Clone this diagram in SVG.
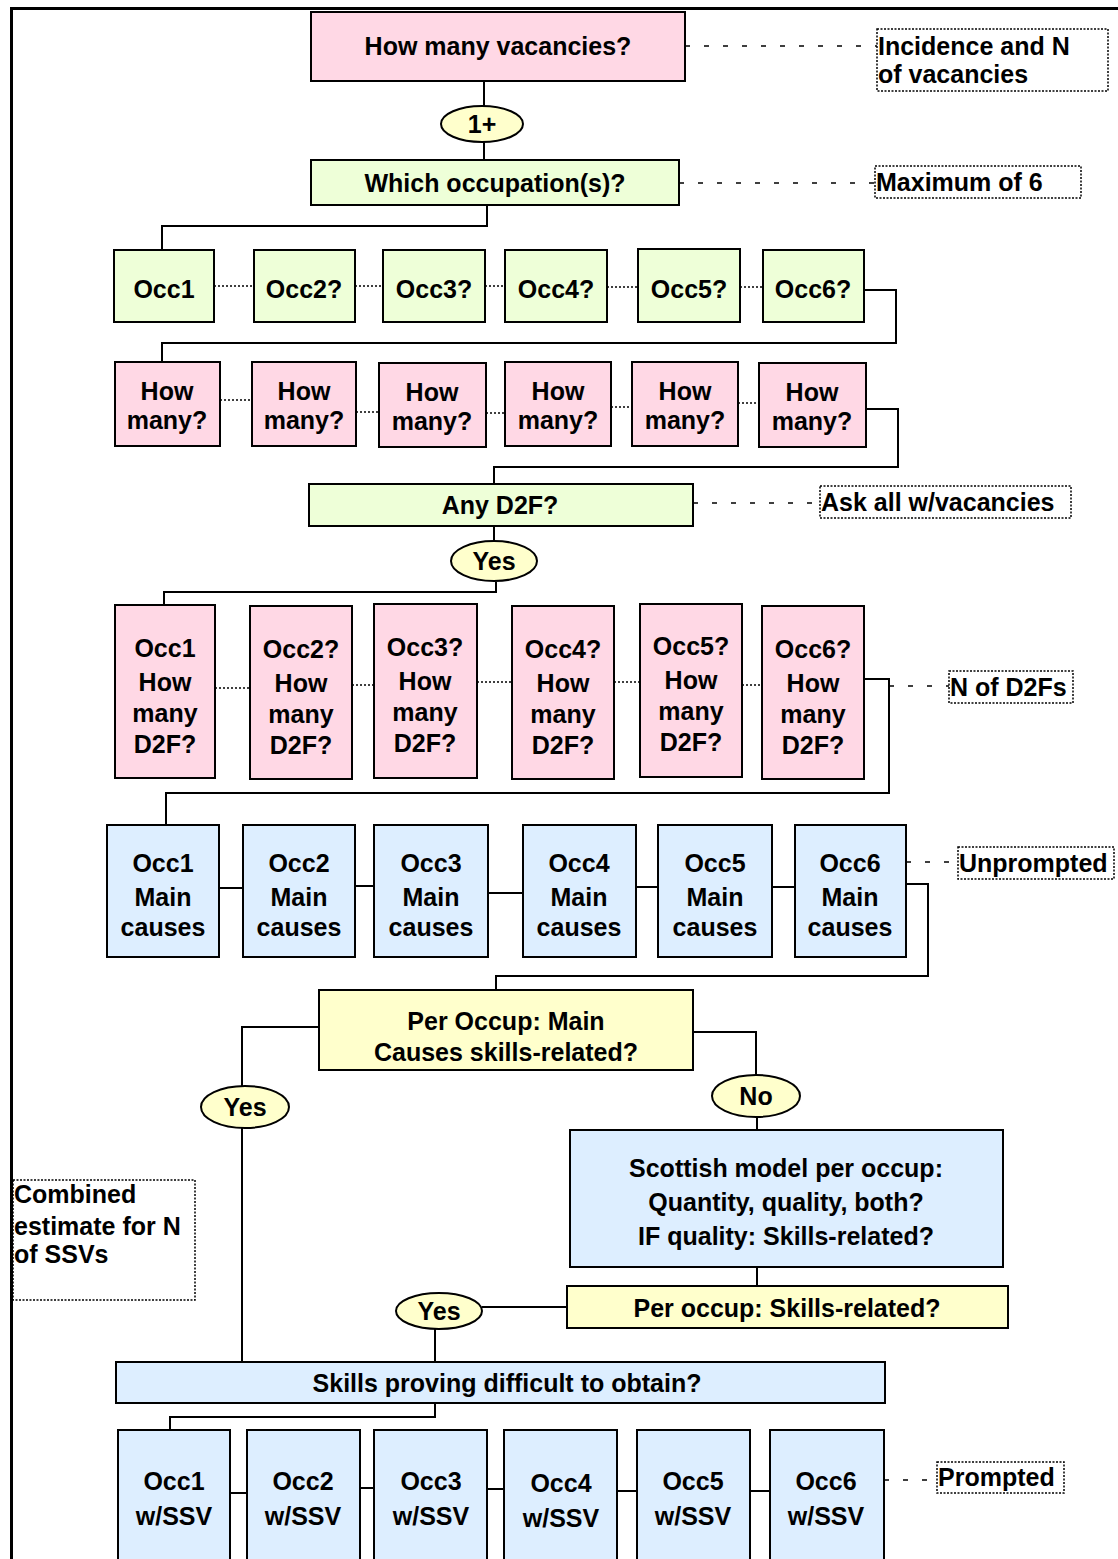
<svg xmlns="http://www.w3.org/2000/svg" width="1118" height="1559" viewBox="0 0 1118 1559">
<style>
.bx{stroke:#000;stroke-width:2}
.pink{fill:#FFD8E5}.green{fill:#EEFFD8}.yellow{fill:#FFFFCC}.blue{fill:#DDEEFF}
.t{font-family:"Liberation Sans",Arial,sans-serif;font-weight:bold;font-size:25px;fill:#000;text-anchor:middle}
.l{text-anchor:start}
.note{fill:none;stroke:#000;stroke-width:1.5;stroke-dasharray:2 1.5}
.c{fill:none;stroke:#000;stroke-width:2}
.dot{fill:none;stroke:#000;stroke-width:1.5;stroke-dasharray:2 2}
.dash{fill:none;stroke:#000;stroke-width:1.5;stroke-dasharray:5 14}
</style>
<rect x="0" y="0" width="1118" height="1559" fill="#fff"/>
<path d="M11.5 1559 V8.5 H1118" fill="none" stroke="#000" stroke-width="3"/>

<g id="connectors">
<path class="c" d="M484 81 V106 M484 142 V160"/>
<path class="c" d="M487 205 V226 H162 V250"/>
<path class="dot" d="M214 286 H254 M355 286 H383 M485 286 H505 M607 287 H638 M740 287 H763"/>
<path class="c" d="M864 290 H896 V343 H162 V362"/>
<path class="dot" d="M220 400 H252 M356 412 H379 M486 413 H505 M611 407 H632 M738 403 H759"/>
<path class="c" d="M866 409 H898 V467 H494 V484"/>
<path class="c" d="M494 526 V540 M496 582 V592 H164 V605"/>
<path class="dot" d="M215 688 H250 M352 685 H374 M477 682 H512 M614 682 H640 M742 685 H762"/>
<path class="c" d="M864 679 H889 V793 H166 V825"/>
<path class="c" d="M219 888 H243 M355 886 H374 M488 893 H523 M636 887 H658 M772 887 H795"/>
<path class="c" d="M906 884 H928 V976 H496 V990"/>
<path class="c" d="M319 1027 H242 V1086 M242 1128 V1362"/>
<path class="c" d="M693 1032 H756 V1075 M757 1117 V1130 M757 1267 V1286"/>
<path class="c" d="M482 1307 H567 M435 1329 V1362"/>
<path class="c" d="M435 1403 V1417 H170 V1430"/>
<path class="c" d="M230 1493 H247 M360 1488 H374 M487 1489 H504 M617 1491 H637 M750 1491 H770"/>
<path class="dash" d="M685 46 H877 M679 183 H875 M693 503 H820 M889 686 H949 M906 862 H958 M884 1480 H937"/>
</g>

<g id="n-vacancies"><rect class="bx pink" x="311" y="12" width="374" height="69"/><text class="t" x="498" y="55">How many vacancies?</text></g>
<g id="note-incidence"><rect class="note" x="877" y="29" width="231" height="62"/><text class="t l" x="878" y="55">Incidence and N</text><text class="t l" x="878" y="83">of vacancies</text></g>
<g id="e-1plus"><ellipse class="bx yellow" cx="482" cy="124" rx="41" ry="18"/><text class="t" x="482" y="133">1+</text></g>
<g id="n-which"><rect class="bx green" x="311" y="160" width="368" height="45"/><text class="t" x="495" y="192">Which occupation(s)?</text></g>
<g id="note-max"><rect class="note" x="875" y="166" width="206" height="32"/><text class="t l" x="876" y="191">Maximum of 6</text></g>

<g id="occ-row">
<g id="occ1"><rect class="bx green" x="114" y="250" width="100" height="72"/><text class="t" x="164" y="298">Occ1</text></g>
<g id="occ2"><rect class="bx green" x="254" y="250" width="101" height="72"/><text class="t" x="304" y="298">Occ2?</text></g>
<g id="occ3"><rect class="bx green" x="383" y="250" width="102" height="72"/><text class="t" x="434" y="298">Occ3?</text></g>
<g id="occ4"><rect class="bx green" x="505" y="250" width="102" height="72"/><text class="t" x="556" y="298">Occ4?</text></g>
<g id="occ5"><rect class="bx green" x="638" y="249" width="102" height="73"/><text class="t" x="689" y="298">Occ5?</text></g>
<g id="occ6"><rect class="bx green" x="763" y="250" width="101" height="72"/><text class="t" x="813" y="298">Occ6?</text></g>
</g>

<g id="howmany-row">
<g id="hm1"><rect class="bx pink" x="115" y="362" width="105" height="84"/><text class="t" x="167" y="400">How</text><text class="t" x="167" y="429">many?</text></g>
<g id="hm2"><rect class="bx pink" x="252" y="362" width="104" height="84"/><text class="t" x="304" y="400">How</text><text class="t" x="304" y="429">many?</text></g>
<g id="hm3"><rect class="bx pink" x="379" y="363" width="107" height="84"/><text class="t" x="432" y="401">How</text><text class="t" x="432" y="430">many?</text></g>
<g id="hm4"><rect class="bx pink" x="505" y="362" width="106" height="84"/><text class="t" x="558" y="400">How</text><text class="t" x="558" y="429">many?</text></g>
<g id="hm5"><rect class="bx pink" x="632" y="362" width="106" height="84"/><text class="t" x="685" y="400">How</text><text class="t" x="685" y="429">many?</text></g>
<g id="hm6"><rect class="bx pink" x="759" y="363" width="107" height="84"/><text class="t" x="812" y="401">How</text><text class="t" x="812" y="430">many?</text></g>
</g>

<g id="n-anyd2f"><rect class="bx green" x="309" y="484" width="384" height="42"/><text class="t" x="500" y="514">Any D2F?</text></g>
<g id="note-askall"><rect class="note" x="820" y="486" width="251" height="32"/><text class="t l" x="821" y="511">Ask all w/vacancies</text></g>
<g id="e-yes1"><ellipse class="bx yellow" cx="494" cy="561" rx="43" ry="20"/><text class="t" x="494" y="570">Yes</text></g>

<g id="d2f-row">
<g id="d2f1"><rect class="bx pink" x="115" y="605" width="100" height="173"/><text class="t" x="165" y="657">Occ1</text><text class="t" x="165" y="691">How</text><text class="t" x="165" y="722">many</text><text class="t" x="165" y="753">D2F?</text></g>
<g id="d2f2"><rect class="bx pink" x="250" y="606" width="102" height="173"/><text class="t" x="301" y="658">Occ2?</text><text class="t" x="301" y="692">How</text><text class="t" x="301" y="723">many</text><text class="t" x="301" y="754">D2F?</text></g>
<g id="d2f3"><rect class="bx pink" x="374" y="604" width="103" height="174"/><text class="t" x="425" y="656">Occ3?</text><text class="t" x="425" y="690">How</text><text class="t" x="425" y="721">many</text><text class="t" x="425" y="752">D2F?</text></g>
<g id="d2f4"><rect class="bx pink" x="512" y="606" width="102" height="173"/><text class="t" x="563" y="658">Occ4?</text><text class="t" x="563" y="692">How</text><text class="t" x="563" y="723">many</text><text class="t" x="563" y="754">D2F?</text></g>
<g id="d2f5"><rect class="bx pink" x="640" y="604" width="102" height="173"/><text class="t" x="691" y="655">Occ5?</text><text class="t" x="691" y="689">How</text><text class="t" x="691" y="720">many</text><text class="t" x="691" y="751">D2F?</text></g>
<g id="d2f6"><rect class="bx pink" x="762" y="606" width="102" height="173"/><text class="t" x="813" y="658">Occ6?</text><text class="t" x="813" y="692">How</text><text class="t" x="813" y="723">many</text><text class="t" x="813" y="754">D2F?</text></g>
</g>
<g id="note-nd2f"><rect class="note" x="949" y="671" width="124" height="32"/><text class="t l" x="950" y="696">N of D2Fs</text></g>

<g id="causes-row">
<g id="mc1"><rect class="bx blue" x="107" y="825" width="112" height="132"/><text class="t" x="163" y="872">Occ1</text><text class="t" x="163" y="906">Main</text><text class="t" x="163" y="936">causes</text></g>
<g id="mc2"><rect class="bx blue" x="243" y="825" width="112" height="132"/><text class="t" x="299" y="872">Occ2</text><text class="t" x="299" y="906">Main</text><text class="t" x="299" y="936">causes</text></g>
<g id="mc3"><rect class="bx blue" x="374" y="825" width="114" height="132"/><text class="t" x="431" y="872">Occ3</text><text class="t" x="431" y="906">Main</text><text class="t" x="431" y="936">causes</text></g>
<g id="mc4"><rect class="bx blue" x="523" y="825" width="113" height="132"/><text class="t" x="579" y="872">Occ4</text><text class="t" x="579" y="906">Main</text><text class="t" x="579" y="936">causes</text></g>
<g id="mc5"><rect class="bx blue" x="658" y="825" width="114" height="132"/><text class="t" x="715" y="872">Occ5</text><text class="t" x="715" y="906">Main</text><text class="t" x="715" y="936">causes</text></g>
<g id="mc6"><rect class="bx blue" x="795" y="825" width="111" height="132"/><text class="t" x="850" y="872">Occ6</text><text class="t" x="850" y="906">Main</text><text class="t" x="850" y="936">causes</text></g>
</g>
<g id="note-unprompted"><rect class="note" x="958" y="847" width="156" height="32"/><text class="t l" x="959" y="872">Unprompted</text></g>

<g id="n-perocc"><rect class="bx yellow" x="319" y="990" width="374" height="80"/><text class="t" x="506" y="1030">Per Occup: Main</text><text class="t" x="506" y="1061">Causes skills-related?</text></g>
<g id="e-yes2"><ellipse class="bx yellow" cx="245" cy="1107" rx="44" ry="21"/><text class="t" x="245" y="1116">Yes</text></g>
<g id="e-no"><ellipse class="bx yellow" cx="756" cy="1096" rx="44" ry="21"/><text class="t" x="756" y="1105">No</text></g>
<g id="n-scottish"><rect class="bx blue" x="570" y="1130" width="433" height="137"/><text class="t" x="786" y="1177">Scottish model per occup:</text><text class="t" x="786" y="1211">Quantity, quality, both?</text><text class="t" x="786" y="1245">IF quality: Skills-related?</text></g>
<g id="note-combined"><rect class="note" x="13" y="1180" width="182" height="120"/><text class="t l" x="14" y="1203">Combined</text><text class="t l" x="14" y="1235">estimate for N</text><text class="t l" x="14" y="1263">of SSVs</text></g>
<g id="e-yes3"><ellipse class="bx yellow" cx="439" cy="1311" rx="43" ry="18"/><text class="t" x="439" y="1320">Yes</text></g>
<g id="n-skillsrel"><rect class="bx yellow" x="567" y="1286" width="441" height="42"/><text class="t" x="787" y="1317">Per occup: Skills-related?</text></g>
<g id="n-difficult"><rect class="bx blue" x="116" y="1362" width="769" height="41"/><text class="t" x="507" y="1392">Skills proving difficult to obtain?</text></g>

<g id="ssv-row">
<g id="ssv1"><rect class="bx blue" x="118" y="1430" width="112" height="140"/><text class="t" x="174" y="1490">Occ1</text><text class="t" x="174" y="1525">w/SSV</text></g>
<g id="ssv2"><rect class="bx blue" x="247" y="1430" width="113" height="140"/><text class="t" x="303" y="1490">Occ2</text><text class="t" x="303" y="1525">w/SSV</text></g>
<g id="ssv3"><rect class="bx blue" x="374" y="1430" width="113" height="140"/><text class="t" x="431" y="1490">Occ3</text><text class="t" x="431" y="1525">w/SSV</text></g>
<g id="ssv4"><rect class="bx blue" x="504" y="1430" width="113" height="140"/><text class="t" x="561" y="1492">Occ4</text><text class="t" x="561" y="1527">w/SSV</text></g>
<g id="ssv5"><rect class="bx blue" x="637" y="1430" width="113" height="140"/><text class="t" x="693" y="1490">Occ5</text><text class="t" x="693" y="1525">w/SSV</text></g>
<g id="ssv6"><rect class="bx blue" x="770" y="1430" width="114" height="140"/><text class="t" x="826" y="1490">Occ6</text><text class="t" x="826" y="1525">w/SSV</text></g>
</g>
<g id="note-prompted"><rect class="note" x="937" y="1462" width="127" height="31"/><text class="t l" x="938" y="1486">Prompted</text></g>
</svg>
